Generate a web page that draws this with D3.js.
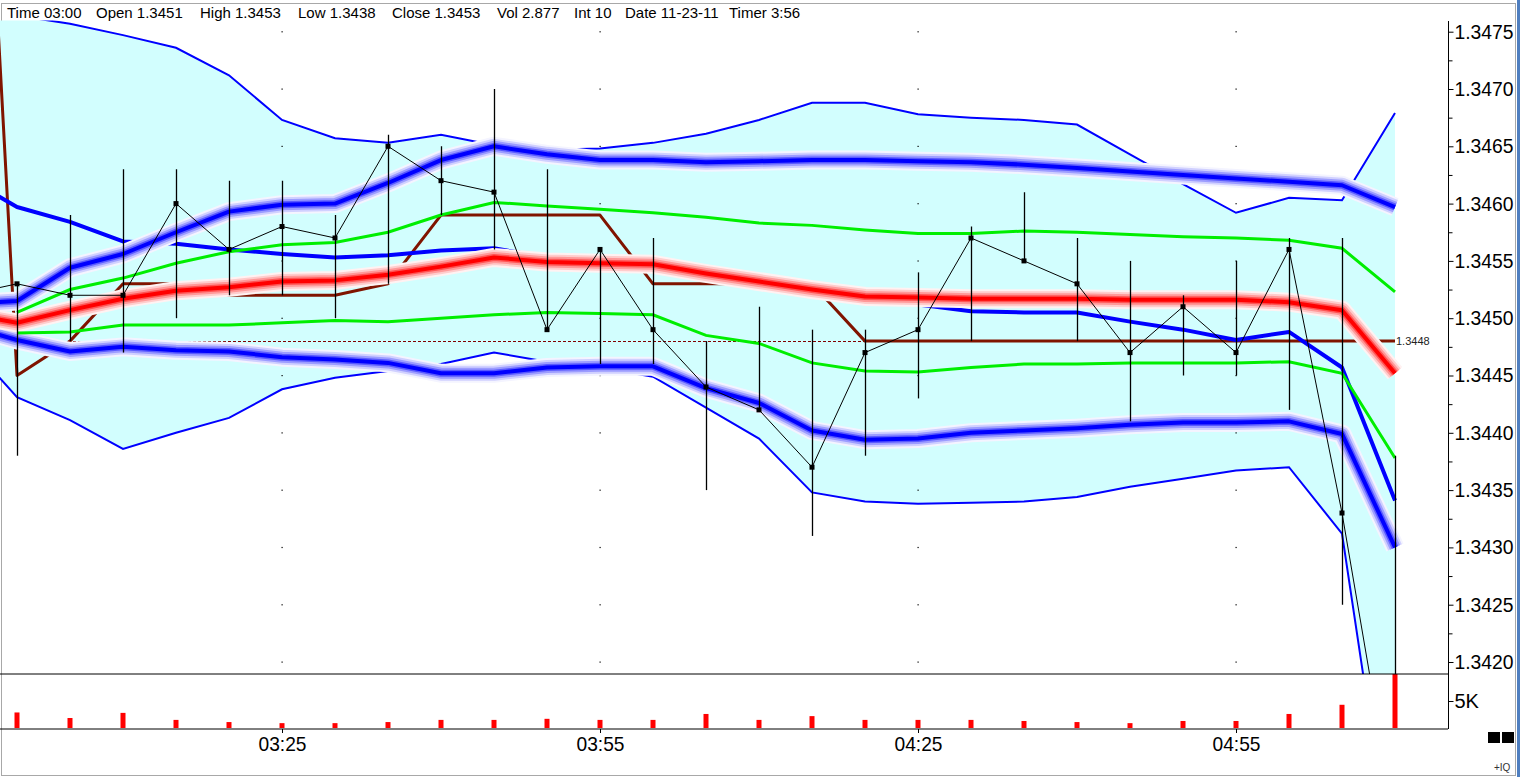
<!DOCTYPE html>
<html>
<head>
<meta charset="utf-8">
<script src="https://cdn.jsdelivr.net/npm/d3@7"></script>
<style>
  body { margin: 0; background: #fff; overflow: hidden; }
  svg { display: block; font-family: "Liberation Sans", Arial, sans-serif; }
</style>
</head>
<body>
<svg id="chart" width="1520" height="777"></svg>
<script>
// 5 minute bars, first entry (02:55) is only the off-screen lead-in of the lines
const times = ["02:55","03:00","03:05","03:10","03:15","03:20","03:25","03:30","03:35","03:40",
  "03:45","03:50","03:55","04:00","04:05","04:10","04:15","04:20","04:25","04:30",
  "04:35","04:40","04:45","04:50","04:55","05:00","05:05","05:10"];

const closes = [1.3452, 1.3453, 1.3452, 1.3452, 1.3460, 1.3456, 1.3458, 1.3457, 1.3465, 1.3462,
  1.3461, 1.3449, 1.3456, 1.3449, 1.3444, 1.3442, 1.3437, 1.3447, 1.3449, 1.3457,
  1.3455, 1.3453, 1.3447, 1.3451, 1.3447, 1.3456, 1.3433, 1.3406];
const highs = [null, 1.3453, 1.3459, 1.3463, 1.3463, 1.3462, 1.3462, 1.3459, 1.3466, 1.3465,
  1.3470, 1.3463, 1.3456, 1.3457, 1.3448, 1.3451, 1.3449, 1.3449, 1.3454, 1.3458,
  1.3461, 1.3457, 1.3455, 1.3452, 1.3455, 1.3457, 1.3457, 1.3438];
const lows = [null, 1.3438, 1.3448, 1.3447, 1.3450, 1.3452, 1.3452, 1.3450, 1.3453, 1.3459,
  1.3456, 1.3449, 1.3446, 1.3446, 1.3435, 1.3442, 1.3431, 1.3438, 1.3443, 1.3448,
  1.3455, 1.3448, 1.3441, 1.3445, 1.3445, 1.3442, 1.3425, 1.3400];
// volume in thousands
const volumes = [null, 2.877, 1.85, 2.8, 1.5, 1.1, 0.9, 0.9, 1.1, 1.5,
  1.5, 1.7, 1.5, 1.5, 2.6, 1.5, 2.2, 1.5, 1.5, 1.5,
  1.3, 1.1, 0.9, 1.3, 1.3, 2.6, 4.3, 11.5];

// outer band (thin blue lines + cyan fill)
const outerUpper = [1.3478, 1.34764, 1.34757, 1.34747, 1.34736, 1.34712, 1.34673, 1.34657, 1.34653, 1.34660,
  1.34651, 1.34647, 1.34648, 1.34653, 1.34661, 1.34673, 1.34688, 1.34688, 1.34678, 1.34675,
  1.34673, 1.34669, 1.34643, 1.34617, 1.34592, 1.34605, 1.34603, 1.34679];
const outerLower = [1.34483, 1.34431, 1.34411, 1.34386, 1.34400, 1.34413, 1.34438, 1.34448, 1.34454, 1.34460,
  1.34470, 1.34462, 1.34457, 1.34449, 1.34422, 1.34395, 1.34348, 1.34340, 1.34338, 1.34339,
  1.34340, 1.34344, 1.34353, 1.34360, 1.34367, 1.34370, 1.34312, 1.34004];

// glowing band lines
const glowUpper = [1.34512, 1.34515, 1.34544, 1.34556, 1.34575, 1.34593, 1.34599, 1.34600, 1.34618, 1.34638,
  1.34650, 1.34643, 1.34638, 1.34638, 1.34636, 1.34637, 1.34638, 1.34638, 1.34637, 1.34636,
  1.34634, 1.34631, 1.34628, 1.34625, 1.34622, 1.34619, 1.34616, 1.34597];
const glowMiddle = [1.34504, 1.34496, 1.34507, 1.34517, 1.34524, 1.34527, 1.34532, 1.34533, 1.34538, 1.34545,
  1.34553, 1.34549, 1.34548, 1.34547, 1.34539, 1.34532, 1.34525, 1.34519, 1.34518, 1.34517,
  1.34517, 1.34517, 1.34516, 1.34516, 1.34516, 1.34514, 1.34507, 1.34452];
const glowLower = [1.34494, 1.34481, 1.34471, 1.34475, 1.34472, 1.34471, 1.34466, 1.34464, 1.34461, 1.34452,
  1.34452, 1.34457, 1.34458, 1.34458, 1.34439, 1.34426, 1.34402, 1.34394, 1.34395, 1.34400,
  1.34402, 1.34404, 1.34407, 1.34409, 1.34409, 1.34410, 1.34399, 1.34300];

// inner band (green)
const greenUpper = [null, 1.34505, 1.34525, 1.34535, 1.34548, 1.34558, 1.34564, 1.34566, 1.34575, 1.34590,
  1.34601, 1.34598, 1.34595, 1.34592, 1.34588, 1.34583, 1.34581, 1.34577, 1.34574, 1.34574,
  1.34576, 1.34575, 1.34573, 1.34571, 1.34570, 1.34568, 1.34561, 1.34523];
const greenLower = [null, 1.34487, 1.34488, 1.34494, 1.34494, 1.34494, 1.34496, 1.34498, 1.34497, 1.34500,
  1.34503, 1.34505, 1.34504, 1.34503, 1.34485, 1.34478, 1.34461, 1.34454, 1.34453, 1.34457,
  1.34460, 1.34460, 1.34461, 1.34461, 1.34461, 1.34462, 1.34452, 1.34378];

// thick blue average and maroon step line
const blueAverage = [1.34624, 1.34597, 1.34584, 1.34567, 1.34565, 1.34560, 1.34556, 1.34553, 1.34555, 1.34559,
  1.34561, 1.34553, 1.34549, 1.34546, 1.34540, 1.34532, 1.34525, 1.34519, 1.34512, 1.34506,
  1.34505, 1.34505, 1.34497, 1.34490, 1.34481, 1.34488, 1.34457, 1.34341];
const stepLine = [1.3530, 1.3445, 1.3448, 1.3453, 1.3453, 1.3452, 1.3452, 1.3452, 1.3453, 1.3459,
  1.3459, 1.3459, 1.3459, 1.3453, 1.3453, 1.3453, 1.3453, 1.3448, 1.3448, 1.3448,
  1.3448, 1.3448, 1.3448, 1.3448, 1.3448, 1.3448, 1.3448, 1.3448];

const refLevel = 1.3448;
const priceTicks = [1.3420, 1.3425, 1.3430, 1.3435, 1.3440, 1.3445, 1.3450, 1.3455, 1.3460, 1.3465, 1.3470, 1.3475];
const priceMinorTicks = [1.34225, 1.34275, 1.34325, 1.34375, 1.34425, 1.34475, 1.34525, 1.34575, 1.34625, 1.34675, 1.34725];
const timeTicks = ["03:25", "03:55", "04:25", "04:55"];
const volumeTicks = [5];

const header = [
  ["Time 03:00", 7], ["Open 1.3451", 96], ["High 1.3453", 200], ["Low 1.3438", 298],
  ["Close 1.3453", 392], ["Vol 2.877", 497], ["Int 10", 574], ["Date 11-23-11", 625], ["Timer 3:56", 729]
];

const parseTime = d3.timeParse("%H:%M");
const bars = times.map((t, i) => ({
  t: parseTime(t), close: closes[i], high: highs[i], low: lows[i], vol: volumes[i],
  oU: outerUpper[i], oL: outerLower[i], gU: glowUpper[i], gM: glowMiddle[i], gL: glowLower[i],
  grU: greenUpper[i], grL: greenLower[i], avg: blueAverage[i], step: stepLine[i]
}));

const axisX = 1448;
const plotTop = 20.5, plotBottom = 674, volBottom = 729;

const x = d3.scaleTime().domain([parseTime("03:00"), parseTime("05:10")]).range([17, 1395]);
const y = d3.scaleLinear().domain([1.3420, 1.3475]).range([662, 31.7]);
const yVol = d3.scaleLinear().domain([0, 5]).range([728, 701]);

const svg = d3.select("#chart");

const defs = svg.append("defs");
defs.append("clipPath").attr("id", "plotClip")
  .append("rect").attr("x", 0).attr("y", plotTop).attr("width", axisX).attr("height", plotBottom - plotTop);
defs.append("clipPath").attr("id", "volClip")
  .append("rect").attr("x", 0).attr("y", plotBottom).attr("width", axisX).attr("height", volBottom - plotBottom);

// window frame + header
svg.append("rect").attr("x", 1.5).attr("y", 3.5).attr("width", 1514).attr("height", 772)
  .attr("fill", "none").attr("stroke", "#a8a8a8");
svg.append("rect").attr("x", 1517).attr("y", 0).attr("width", 3).attr("height", 777).attr("fill", "#4f7fc0");

svg.append("g").selectAll("text")
  .data(header)
  .enter()
  .append("text")
  .attr("x", d => d[1])
  .attr("y", 18)
  .attr("font-size", 15)
  .attr("fill", "#000")
  .text(d => d[0]);

const plot = svg.append("g").attr("clip-path", "url(#plotClip)");

const lineOf = key => d3.line()
  .defined(d => d[key] != null)
  .x(d => x(d.t))
  .y(d => y(d[key]));

// cyan band
plot.append("path")
  .datum(bars)
  .attr("fill", "#d2fefe")
  .attr("d", d3.area().x(d => x(d.t)).y0(d => y(d.oL)).y1(d => y(d.oU)));

// grid dots
const dots = [];
timeTicks.forEach(t => priceTicks.forEach(p => dots.push([t, p])));
plot.append("g").selectAll("rect")
  .data(dots)
  .enter()
  .append("rect")
  .attr("x", d => x(parseTime(d[0])) - 0.5)
  .attr("y", d => y(d[1]) - 0.5)
  .attr("width", 1.2)
  .attr("height", 1.2)
  .attr("fill", "#000");

// thin outer band lines
["oU", "oL"].forEach(k => {
  plot.append("path").datum(bars)
    .attr("fill", "none").attr("stroke", "#0000ff").attr("stroke-width", 2)
    .attr("d", lineOf(k));
});

// dashed reference level
plot.append("line")
  .attr("x1", x(parseTime("03:05")) - 7).attr("x2", x(parseTime("05:10")))
  .attr("y1", Math.round(y(refLevel)) + 0.5).attr("y2", Math.round(y(refLevel)) + 0.5)
  .attr("stroke", "#800000").attr("stroke-width", 1).attr("stroke-dasharray", "3,2");

// maroon step line
plot.append("path").datum(bars)
  .attr("fill", "none").attr("stroke", "#801400").attr("stroke-width", 3)
  .attr("stroke-linejoin", "round")
  .attr("d", lineOf("step"));

// thick blue average
plot.append("path").datum(bars)
  .attr("fill", "none").attr("stroke", "#0000ff").attr("stroke-width", 4)
  .attr("stroke-linejoin", "round")
  .attr("d", lineOf("avg"));

// glowing lines
const blueShades = [[19, "#f4f4ff"], [15, "#d0d0ff"], [11, "#9c9cff"], [7, "#5a5aff"], [4, "#0000ff"]];
const redShades = [[19, "#fff2f2"], [15, "#ffcccc"], [11, "#ff9898"], [7, "#ff5454"], [4, "#ff0000"]];
function glow(key, shades) {
  shades.forEach(s => {
    plot.append("path").datum(bars)
      .attr("fill", "none")
      .attr("stroke", s[1])
      .attr("stroke-width", s[0])
      .attr("stroke-linejoin", "round")
      .attr("d", lineOf(key));
  });
}
glow("gU", blueShades);
glow("gL", blueShades);
glow("gM", redShades);

// green inner band
["grU", "grL"].forEach(k => {
  plot.append("path").datum(bars)
    .attr("fill", "none").attr("stroke", "#00ee00").attr("stroke-width", 3)
    .attr("d", lineOf(k));
});

// high-low bars
const priced = bars.filter(d => d.high != null);
plot.append("g").selectAll("line")
  .data(priced)
  .enter()
  .append("line")
  .attr("x1", d => Math.round(x(d.t)) + 0.5)
  .attr("x2", d => Math.round(x(d.t)) + 0.5)
  .attr("y1", d => y(d.high))
  .attr("y2", d => y(d.low))
  .attr("stroke", "#000")
  .attr("stroke-width", 1.3);

// close line + markers
plot.append("path").datum(bars)
  .attr("fill", "none").attr("stroke", "#000").attr("stroke-width", 1)
  .attr("d", lineOf("close"));
plot.append("g").selectAll("rect")
  .data(priced)
  .enter()
  .append("rect")
  .attr("x", d => x(d.t) - 2.5)
  .attr("y", d => y(d.close) - 2.5)
  .attr("width", 5)
  .attr("height", 5)
  .attr("fill", "#000");

// reference level label
svg.append("text")
  .attr("x", x(parseTime("05:10")) + 1)
  .attr("y", y(refLevel) + 4)
  .attr("font-size", 11)
  .attr("fill", "#222")
  .text(refLevel.toFixed(4));

// volume bars
svg.append("g").attr("clip-path", "url(#volClip)")
  .selectAll("rect")
  .data(bars.filter(d => d.vol != null))
  .enter()
  .append("rect")
  .attr("x", d => x(d.t) - 2.5)
  .attr("y", d => yVol(d.vol))
  .attr("width", 5)
  .attr("height", d => yVol(0) - yVol(d.vol))
  .attr("fill", "#ff0000");

// panel borders
svg.append("line").attr("x1", 0).attr("x2", axisX).attr("y1", plotBottom).attr("y2", plotBottom)
  .attr("stroke", "#000");
svg.append("line").attr("x1", 0).attr("x2", axisX).attr("y1", volBottom).attr("y2", volBottom)
  .attr("stroke", "#000");
svg.append("line").attr("x1", axisX + 0.5).attr("x2", axisX + 0.5).attr("y1", 21).attr("y2", volBottom)
  .attr("stroke", "#000");

// price axis
const priceAxis = svg.append("g")
  .attr("transform", `translate(${axisX + 0.5},0)`)
  .call(d3.axisRight(y).tickValues(priceTicks).tickFormat(d3.format(".4f")).tickSize(5).tickPadding(1));
priceAxis.select(".domain").remove();
priceAxis.selectAll("text")
  .attr("font-size", 20)
  .attr("font-family", "Liberation Sans, Arial, sans-serif")
  .attr("fill", "#000")
  .attr("textLength", 59)
  .attr("lengthAdjust", "spacingAndGlyphs");
const minorAxis = svg.append("g")
  .attr("transform", `translate(${axisX + 0.5},0)`)
  .call(d3.axisRight(y).tickValues(priceMinorTicks).tickFormat("").tickSize(4));
minorAxis.select(".domain").remove();

// volume axis
const volAxis = svg.append("g")
  .attr("transform", `translate(${axisX + 0.5},0)`)
  .call(d3.axisRight(yVol).tickValues(volumeTicks).tickFormat(d => d + "K").tickSize(5).tickPadding(1));
volAxis.select(".domain").remove();
volAxis.selectAll("text")
  .attr("font-size", 20)
  .attr("font-family", "Liberation Sans, Arial, sans-serif")
  .attr("fill", "#000");

// time axis
const timeAxis = svg.append("g")
  .attr("transform", `translate(0,${volBottom})`)
  .call(d3.axisBottom(x).tickValues(timeTicks.map(parseTime)).tickFormat(d3.timeFormat("%H:%M")).tickSize(4));
timeAxis.select(".domain").remove();
timeAxis.selectAll("text")
  .attr("y", 22)
  .attr("dy", 0)
  .attr("font-size", 21)
  .attr("font-family", "Liberation Sans, Arial, sans-serif")
  .attr("fill", "#000")
  .attr("textLength", 48)
  .attr("lengthAdjust", "spacingAndGlyphs");

// corner widgets
svg.append("rect").attr("x", 1488).attr("y", 732).attr("width", 12).attr("height", 11).attr("fill", "#000");
svg.append("rect").attr("x", 1502).attr("y", 732).attr("width", 12).attr("height", 11).attr("fill", "#000");
svg.append("text").attr("x", 1494).attr("y", 771).attr("font-size", 10).attr("fill", "#333").text("+IQ");
</script>
</body>
</html>
